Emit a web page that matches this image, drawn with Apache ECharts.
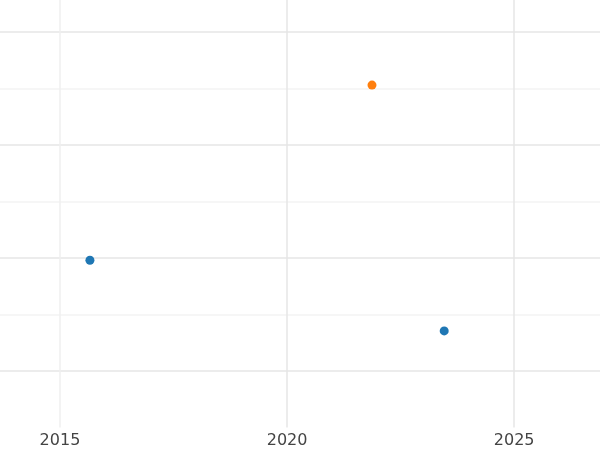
<!DOCTYPE html>
<html>
<head>
<meta charset="utf-8">
<script src="https://cdn.jsdelivr.net/npm/echarts@6/dist/echarts.min.js"></script>
<style>html,body{margin:0;background:#fff}#chart{width:600px;height:450px}</style>
</head>
<body>
<div id="chart"></div>
<script>
// data (y has no labels, units are grid steps)
const blueYears = [2015.66, 2023.46];
const blueValues = [1.96, 0.71];
const orangeYears = [2021.87];
const orangeValues = [5.06];
const xTicks = [2015, 2020, 2025];

const chart = echarts.init(document.getElementById("chart"));

const major = '#e6e6e6', minor = '#f3f3f3';

chart.setOption({
    animation: false,
    grid: { left: 0, right: 0, top: 0, bottom: 22.5 },
    xAxis: {
        type: 'value',
        min: 2013.68,
        max: 2026.89,
        axisLine: { show: false },
        axisTick: { show: false, customValues: xTicks },
        axisLabel: {
            customValues: xTicks,
            color: '#444', fontSize: 16, margin: 5, fontFamily: 'DejaVu Sans',
            formatter: v => String(v)
        },
        splitLine: { lineStyle: { color: ['#efefef', major, major], width: 1.5 } }
    },
    yAxis: {
        type: 'value',
        min: -1,
        max: 6.566,
        interval: 1,
        axisLine: { show: false },
        axisTick: { show: false },
        axisLabel: { show: false },
        splitLine: { lineStyle: { color: ['rgba(0,0,0,0)', major, minor, major, minor, major, minor, major], width: 1.5 } }
    },
    series: [
        {
            type: 'scatter',
            symbolSize: 9,
            itemStyle: { color: '#1f77b4', opacity: 1 },
            data: blueYears.map((x, i) => [x, blueValues[i]])
        },
        {
            type: 'scatter',
            symbolSize: 9,
            itemStyle: { color: '#ff7f0e', opacity: 1 },
            data: orangeYears.map((x, i) => [x, orangeValues[i]])
        }
    ]
});
</script>
</body>
</html>
